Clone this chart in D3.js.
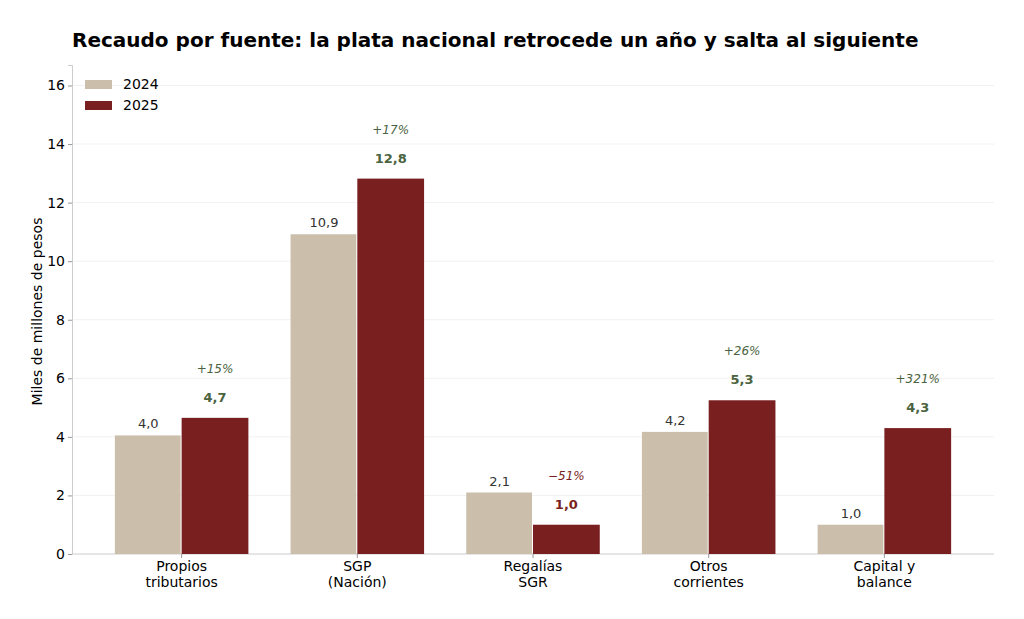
<!DOCTYPE html><html><head><meta charset="utf-8"><script src="https://cdn.jsdelivr.net/npm/d3@7"></script>
<style>body{margin:0;background:#fff}text{font-family:"DejaVu Sans",sans-serif}</style></head><body><svg id="c" width="1024" height="619"></svg><script>
const categories=["Propios\ntributarios","SGP\n(Nación)","Regalías\nSGR","Otros\ncorrientes","Capital y\nbalance"];
const v2024=[4.05,10.92,2.1,4.17,1.0];
const v2025=[4.65,12.82,1.0,5.25,4.3];
const pctLabels=["+15%","+17%","\u221251%","+26%","+321%"];
const yTicks=[0,2,4,6,8,10,12,14,16];
const svg=d3.select("#c");
const L=72,R=994,T=65,B=554;
const x=d3.scaleBand().domain(d3.range(5)).range([L,R]).paddingInner(0.24).paddingOuter(0.244);
const y=d3.scaleLinear().domain([0,16.7]).range([B,T]);
const bw=x.bandwidth()/2;
svg.append("text").attr("x",72).attr("y",47).attr("font-size",20).attr("font-weight","bold").text("Recaudo por fuente: la plata nacional retrocede un año y salta al siguiente");
svg.append("g").selectAll("line").data(yTicks.slice(1)).join("line").attr("x1",L).attr("x2",R).attr("y1",d=>y(d)).attr("y2",d=>y(d)).attr("stroke","#eee").attr("stroke-width",0.8);
const ya=svg.append("g").attr("transform",`translate(${L},0)`).call(d3.axisLeft(y).tickValues(yTicks).tickSize(4));
ya.select(".domain").attr("stroke","#ccc");ya.selectAll(".tick line").attr("stroke","#999");ya.selectAll("text").attr("font-size",14).attr("fill","#000");
svg.append("line").attr("x1",L).attr("x2",R).attr("y1",B).attr("y2",B).attr("stroke","#ccc");
svg.append("text").attr("transform",`translate(42,${(T+B)/2+2}) rotate(-90)`).attr("text-anchor","middle").attr("font-size",14).text("Miles de millones de pesos");
const g=svg.append("g");
g.selectAll(".a").data(v2024).join("rect").attr("x",(d,i)=>x(i)).attr("width",bw-1).attr("y",d=>y(d)).attr("height",d=>B-y(d)).attr("fill","#cbbfac");
g.selectAll(".b").data(v2025).join("rect").attr("x",(d,i)=>x(i)+bw).attr("width",bw).attr("y",d=>y(d)).attr("height",d=>B-y(d)).attr("fill","#7a1f20");
const fmt=d=>d3.format(".1f")(d).replace(".",",");
g.selectAll(".la").data(v2024).join("text").attr("x",(d,i)=>x(i)+bw/2).attr("y",d=>y(d)-7).attr("text-anchor","middle").attr("font-size",13).attr("fill","#333").text(fmt);
const col=i=>pctLabels[i].startsWith("+")?"#4a6340":"#7a1f20";
g.selectAll(".lb").data(v2025).join("text").attr("x",(d,i)=>x(i)+bw*1.5).attr("y",d=>y(d)-16).attr("text-anchor","middle").attr("font-size",13).attr("font-weight","bold").attr("fill",(d,i)=>col(i)).text(fmt);
g.selectAll(".lp").data(v2025).join("text").attr("x",(d,i)=>x(i)+bw*1.5).attr("y",d=>y(d)-45).attr("text-anchor","middle").attr("font-size",12).attr("font-style","italic").attr("fill",(d,i)=>col(i)).text((d,i)=>pctLabels[i]);
categories.forEach((c,i)=>{c.split("\n").forEach((s,j)=>svg.append("text").attr("x",x(i)+bw).attr("y",B+17+j*16).attr("text-anchor","middle").attr("font-size",14).text(s));
svg.append("line").attr("x1",x(i)+bw).attr("x2",x(i)+bw).attr("y1",B).attr("y2",B+4).attr("stroke","#999");});
[["2024","#cbbfac"],["2025","#7a1f20"]].forEach((d,i)=>{svg.append("rect").attr("x",85).attr("y",80+i*21).attr("width",27).attr("height",9).attr("fill",d[1]);
svg.append("text").attr("x",123).attr("y",89+i*21).attr("font-size",14).text(d[0]);});
</script></body></html>
